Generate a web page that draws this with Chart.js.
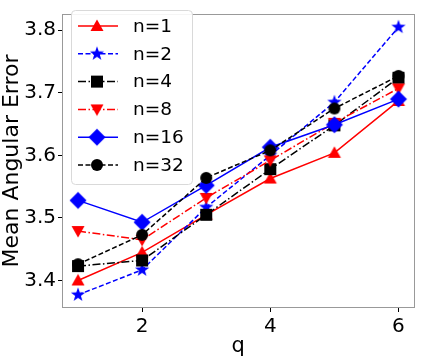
<!DOCTYPE html>
<html>
<head>
<meta charset="utf-8">
<script src="https://cdn.jsdelivr.net/npm/chart.js@4.4.1/dist/chart.umd.min.js"></script>
<style>
html,body{margin:0;padding:0;background:#fff;}
#wrap{width:423px;height:358px;}
</style>
</head>
<body>
<div id="wrap"><canvas id="c" width="423" height="358"></canvas></div>
<script>
// ---- data ----
const qValues = [1, 2, 3, 4, 5, 6];
const seriesNames = ['n=1', 'n=2', 'n=4', 'n=8', 'n=16', 'n=32'];
const n1 = [3.400, 3.445, 3.505, 3.563, 3.604, 3.687];
const n2 = [3.377, 3.417, 3.517, 3.600, 3.685, 3.805];
const n4 = [3.423, 3.432, 3.505, 3.578, 3.648, 3.724];
const n8 = [3.479, 3.465, 3.532, 3.592, 3.652, 3.707];
const n16 = [3.528, 3.493, 3.552, 3.613, 3.649, 3.690];
const n32 = [3.426, 3.473, 3.564, 3.608, 3.675, 3.727];
const xTicks = [2, 4, 6];
const yTicks = [3.4, 3.5, 3.6, 3.7, 3.8];

const FONT = "'DejaVu Sans', sans-serif";

function makeMarker(kind, color) {
  const s = 20, c = document.createElement('canvas');
  c.width = s; c.height = s;
  const g = c.getContext('2d');
  g.fillStyle = color;
  g.translate(s / 2, s / 2);
  g.beginPath();
  if (kind === 'tri') {
    g.moveTo(0, -6.5); g.lineTo(6.5, 5); g.lineTo(-6.5, 5);
  } else if (kind === 'tridown') {
    g.moveTo(0, 6.5); g.lineTo(6.5, -5); g.lineTo(-6.5, -5);
  } else if (kind === 'star') {
    const R = 7.5, r = 3.0;
    for (let i = 0; i < 10; i++) {
      const a = -Math.PI / 2 + i * Math.PI / 5;
      const rr = i % 2 ? r : R;
      const x = rr * Math.cos(a), y = rr * Math.sin(a);
      if (i === 0) g.moveTo(x, y); else g.lineTo(x, y);
    }
  } else if (kind === 'square') {
    g.rect(-6, -6, 12, 12);
  } else if (kind === 'diamond') {
    g.moveTo(0, -8.5); g.lineTo(8.5, 0); g.lineTo(0, 8.5); g.lineTo(-8.5, 0);
  } else if (kind === 'circle') {
    g.arc(0, 0, 6, 0, Math.PI * 2);
  }
  g.closePath();
  g.fill();
  return c;
}

const DASH = [5, 2.5];
const DASHDOT = [8, 2.5, 1.5, 2.5];
const styles = [
  { color: '#ff0000', marker: 'tri', dash: [] },
  { color: '#0000ff', marker: 'star', dash: DASH },
  { color: '#000000', marker: 'square', dash: DASHDOT },
  { color: '#ff0000', marker: 'tridown', dash: DASHDOT },
  { color: '#0000ff', marker: 'diamond', dash: [] },
  { color: '#000000', marker: 'circle', dash: DASH }
];
const allSeries = [n1, n2, n4, n8, n16, n32];

const datasets = allSeries.map((vals, i) => {
  const st = styles[i];
  const img = makeMarker(st.marker, st.color);
  return {
    label: seriesNames[i],
    data: qValues.map((q, j) => ({ x: q, y: vals[j] })),
    borderColor: st.color,
    backgroundColor: st.color,
    borderWidth: 1.5,
    borderDash: st.dash,
    pointStyle: img,
    pointRadius: 7,
    tension: 0,
    fill: false,
    order: 6 - i,
    _img: img
  };
});

const framePlugin = {
  id: 'frame',
  afterDatasetsDraw(chart) {
    const a = chart.chartArea, ctx = chart.ctx;
    ctx.save();
    ctx.strokeStyle = '#999999';
    ctx.lineWidth = 1;
    ctx.strokeRect(Math.round(a.left) + 0.5, Math.round(a.top) + 0.5,
      Math.round(a.right - a.left) - 1, Math.round(a.bottom - a.top) - 1);
    ctx.restore();
  }
};

const legendPlugin = {
  id: 'mplLegend',
  afterDraw(chart) {
    const ctx = chart.ctx;
    const bx = 71.5, by = 10.5, bw = 121, bh = 174, r = 4;
    ctx.save();
    ctx.globalAlpha = 0.9;
    ctx.fillStyle = '#ffffff';
    ctx.strokeStyle = '#d9d9d9';
    ctx.lineWidth = 1;
    ctx.beginPath();
    ctx.roundRect(bx, by, bw, bh, r);
    ctx.fill();
    ctx.globalAlpha = 1;
    ctx.stroke();
    const rowY0 = 26, rowStep = 27.8;
    chart.data.datasets.forEach((ds, i) => {
      const y = rowY0 + i * rowStep;
      ctx.strokeStyle = ds.borderColor;
      ctx.lineWidth = 1.5;
      ctx.setLineDash(ds.borderDash);
      ctx.beginPath();
      ctx.moveTo(78, y); ctx.lineTo(118, y);
      ctx.stroke();
      ctx.setLineDash([]);
      const img = ds._img;
      ctx.drawImage(img, 97 - img.width / 2, y - img.height / 2);
      ctx.fillStyle = '#000';
      ctx.font = '18.5px ' + FONT;
      ctx.textBaseline = 'middle';
      ctx.textAlign = 'left';
      ctx.fillText(ds.label, 133, y + 1);
    });
    ctx.restore();
  }
};

new Chart(document.getElementById('c'), {
  type: 'line',
  data: { datasets },
  plugins: [framePlugin, legendPlugin],
  options: {
    responsive: false,
    animation: false,
    events: [],
    layout: { padding: { top: 1, right: 1, left: 0, bottom: 0 } },
    plugins: { legend: { display: false }, tooltip: { enabled: false } },
    scales: {
      x: {
        type: 'linear',
        min: 0.75, max: 6.25,
        afterBuildTicks(s) { s.ticks = xTicks.map(v => ({ value: v })); },
        afterFit(s) { s.height = 50; },
        grid: { drawOnChartArea: false, drawTicks: true, tickLength: 4, color: '#000' },
        border: { display: false },
        ticks: { color: '#000', font: { family: FONT, size: 20 }, padding: 3, maxRotation: 0 },
        title: { display: true, text: 'q', color: '#000', font: { family: FONT, size: 21, lineHeight: 1 }, padding: { top: 0, bottom: 0.5 } }
      },
      y: {
        type: 'linear',
        min: 3.356, max: 3.826,
        afterBuildTicks(s) { s.ticks = yTicks.map(v => ({ value: v })); },
        afterFit(s) { s.width = 62; },
        grid: { drawOnChartArea: false, drawTicks: true, tickLength: 4, color: '#000' },
        border: { display: false },
        ticks: { color: '#000', font: { family: FONT, size: 20 }, padding: 2,
          callback: v => v.toFixed(1) },
        title: { display: true, text: 'Mean Angular Error', color: '#000', font: { family: FONT, size: 22, lineHeight: 1 }, padding: { top: 1, bottom: 0 } }
      }
    }
  }
});
</script>
</body>
</html>
